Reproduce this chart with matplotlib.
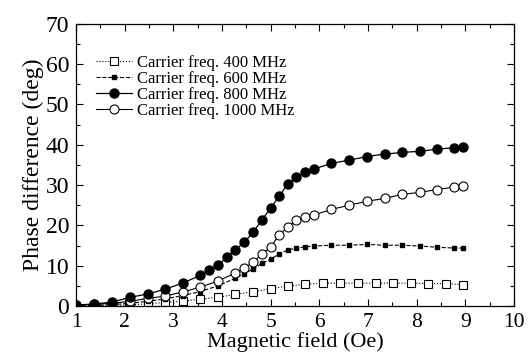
import matplotlib

matplotlib.use("Agg")
import matplotlib.pyplot as plt
from matplotlib.ticker import MultipleLocator

# field values (Oe) and phase differences (deg)
x_400 = [1.0, 1.37, 1.74, 2.11, 2.47, 2.83, 3.19, 3.55, 3.91, 4.27, 4.64, 5.0,
         5.35, 5.71, 6.07, 6.43, 6.79, 7.16, 7.52, 7.88, 8.24, 8.60, 8.95]
y_400 = [0.1, 0.0, 0.2, 0.3, 0.6, 0.9, 1.2, 1.7, 2.2, 2.9, 3.6, 4.3,
         5.0, 5.4, 5.7, 5.7, 5.7, 5.7, 5.7, 5.7, 5.6, 5.6, 5.3]

x_600 = [1.0, 1.37, 1.74, 2.11, 2.47, 2.83, 3.19, 3.55, 3.91, 4.27, 4.45, 4.64,
         4.82, 5.0, 5.17, 5.35, 5.53, 5.71, 5.89, 6.25, 6.61, 6.98, 7.34, 7.70,
         8.06, 8.42, 8.77, 8.95]
y_600 = [0.1, 0.2, 0.4, 0.7, 1.2, 1.8, 2.6, 3.6, 5.0, 6.9, 8.0, 9.2,
         10.6, 11.6, 12.9, 13.9, 14.4, 14.7, 14.9, 15.1, 15.1, 15.3, 15.1, 15.1,
         14.9, 14.6, 14.4, 14.4]

x_800 = [1.0, 1.37, 1.74, 2.11, 2.47, 2.83, 3.19, 3.55, 3.73, 3.91, 4.10, 4.27,
         4.45, 4.64, 4.82, 5.0, 5.17, 5.35, 5.53, 5.71, 5.89, 6.25, 6.61, 6.98,
         7.34, 7.70, 8.06, 8.42, 8.77, 8.95]
y_800 = [0.3, 0.5, 1.0, 2.2, 3.0, 4.2, 5.7, 7.6, 8.9, 10.1, 12.1, 13.9,
         15.8, 18.3, 21.4, 24.3, 27.2, 30.3, 32.0, 33.2, 34.0, 35.4, 36.2, 37.1,
         37.7, 38.1, 38.4, 38.9, 39.3, 39.5]

x_1000 = [1.0, 1.37, 1.74, 2.11, 2.47, 2.83, 3.19, 3.55, 3.91, 4.27, 4.45, 4.64,
          4.82, 5.0, 5.17, 5.35, 5.53, 5.71, 5.89, 6.25, 6.61, 6.98, 7.34, 7.70,
          8.06, 8.42, 8.77, 8.95]
y_1000 = [0.2, 0.5, 0.7, 1.2, 1.9, 2.5, 3.5, 4.7, 6.2, 8.2, 9.4, 10.9,
          12.9, 14.6, 17.6, 19.6, 21.3, 22.0, 22.6, 24.0, 25.0, 26.0, 26.7, 27.7,
          28.2, 28.9, 29.5, 29.9]

labels = ["Carrier freq. 400 MHz", "Carrier freq. 600 MHz",
          "Carrier freq. 800 MHz", "Carrier freq. 1000 MHz"]

plt.rcParams["font.family"] = ["Liberation Serif", "DejaVu Serif"]

fig = plt.figure(figsize=(5.32, 3.61), dpi=100)
ax = fig.add_axes([0.143, 0.152, 0.823, 0.782])

ax.plot(x_400, y_400, ls=":", lw=0.8, color="black", marker="s", ms=5.5,
        mfc="white", mec="black", mew=0.8, label=labels[0])
ax.plot(x_600, y_600, ls="--", lw=0.8, color="black", marker="s", ms=3.5,
        mfc="black", mec="black", label=labels[1])
ax.plot(x_1000, y_1000, ls="-", lw=0.8, color="black", marker="o", ms=6.5,
        mfc="white", mec="black", mew=0.8, label=labels[3])
ax.plot(x_800, y_800, ls="-", lw=0.9, color="black", marker="o", ms=6.5,
        mfc="black", mec="black", label=labels[2])

handles, labs = ax.get_legend_handles_labels()
order = [0, 1, 3, 2]
ax.legend([handles[i] for i in order], [labs[i] for i in order],
          loc="upper left", bbox_to_anchor=(0.045, 0.89), frameon=False,
          fontsize=12, handlelength=2.2, handletextpad=0.3,
          labelspacing=0.0, borderaxespad=0.0, borderpad=0.0)

ax.set_xlim(1, 10)
ax.set_ylim(0, 70)
ax.xaxis.set_major_locator(MultipleLocator(1))
ax.xaxis.set_minor_locator(MultipleLocator(0.5))
ax.yaxis.set_major_locator(MultipleLocator(10))
ax.yaxis.set_minor_locator(MultipleLocator(5))
ax.tick_params(which="both", direction="in", top=True, right=True, width=0.8)
ax.tick_params(which="major", length=5)
ax.tick_params(which="minor", length=3)
ax.tick_params(axis="x", labelsize=15.5, pad=5)
ax.tick_params(axis="y", labelsize=17, pad=5)
for s in ax.spines.values():
    s.set_linewidth(0.9)

ax.set_xlabel("Magnetic field (Oe)", fontsize=16, labelpad=0)
ax.set_ylabel("Phase difference (deg)", fontsize=17, labelpad=1)

fig.savefig("out.png", dpi=100)
